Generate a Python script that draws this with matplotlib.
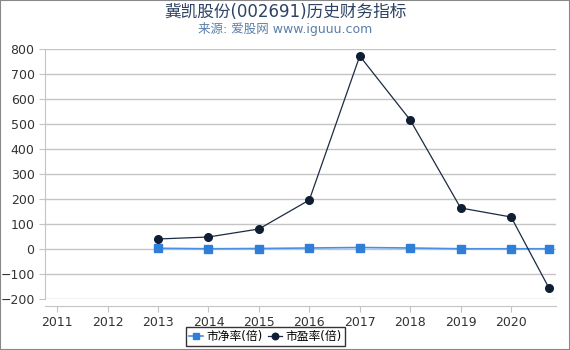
import matplotlib
matplotlib.use("Agg")
import matplotlib.pyplot as plt

plt.rcParams['font.family'] = ['DejaVu Sans', 'Noto Sans CJK SC']

years = [2013, 2014, 2015, 2016, 2017, 2018, 2019, 2020, 2020.75]
pb = [3, 1, 2, 4, 6, 4, 1, 1, 1]
pe = [40, 48, 80, 196, 772, 516, 164, 128, -156]
xticks = list(range(2011, 2021))
yticks = list(range(-200, 801, 100))

fig = plt.figure(figsize=(5.7, 3.5), dpi=100)
fig.patches.append(plt.Rectangle((0, 0), 1, 1, transform=fig.transFigure,
                                 fill=False, edgecolor='#888888', linewidth=1.5))
ax = fig.add_axes([45 / 570, 51 / 350, 511 / 570, 250 / 350])

ax.plot(years, pb, color='#4a90e2', marker='s', markersize=5.5,
        markerfacecolor='#2f7fd8', markeredgecolor='#2f7fd8', linewidth=1.2, label='市净率(倍)')
ax.plot(years, pe, color='#1c2b42', marker='o', markersize=5.5,
        markerfacecolor='#0f1e33', markeredgecolor='#0f1e33', linewidth=0.9, label='市盈率(倍)')

ax.set_xlim(2010.76, 2020.89)
ax.set_ylim(-200, 800)
ax.set_xticks(xticks)
ax.set_yticks(yticks)
ax.grid(axis='y', color='#c4c4c4', linewidth=1)
ax.set_axisbelow(True)
for s in ['top', 'right']:
    ax.spines[s].set_visible(False)
ax.spines['left'].set_color('#c4c4c4')
ax.spines['bottom'].set_color('#c4c4c4')
ax.spines['bottom'].set_position(('outward', 5))
ax.tick_params(axis='both', colors='#c4c4c4', labelcolor='#333333', labelsize=9, length=4)

fig.text(0.5, 0.965, '冀凯股份(002691)历史财务指标', ha='center', va='center',
         fontsize=12, color='#2d4263')
fig.text(0.5, 0.918, '来源: 爱股网 www.iguuu.com', ha='center', va='center',
         fontsize=9, color='#5a7fa8')

leg = ax.legend(loc='upper left', bbox_to_anchor=(186 / 570, 1 - 327 / 350),
                bbox_transform=fig.transFigure, ncol=2, fontsize=8.5, frameon=True,
                fancybox=False, handlelength=1.2, handletextpad=0.3, columnspacing=0.4,
                borderpad=0.25, borderaxespad=0, edgecolor='black', markerscale=0.85)
leg.get_frame().set_linewidth(1)

fig.savefig('out.png', dpi=100)
